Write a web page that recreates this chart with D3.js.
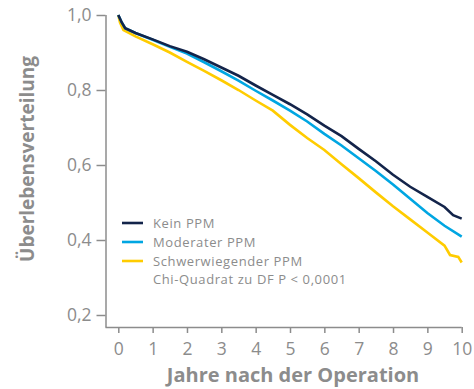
<!DOCTYPE html>
<html>
<head>
<meta charset="utf-8">
<script src="https://cdn.jsdelivr.net/npm/d3@7"></script>
<style>
  body { margin: 0; background: #fff; }
  text { font-family: "Open Sans", Lato, sans-serif; }
</style>
</head>
<body>
<svg id="main"></svg>
<script>
var chart = {
  width: 474,
  height: 389
}

// survival curves: [year, value]
var keinPPM = [[0,1.0],[0.1,0.98],[0.2,0.965],[0.5,0.952],[1,0.935],[1.5,0.917],[2,0.902],[2.5,0.882],[3,0.86],[3.5,0.838],[4,0.812],[4.5,0.787],[5,0.762],[5.5,0.735],[6,0.705],[6.5,0.677],[7,0.643],[7.5,0.61],[8,0.574],[8.5,0.542],[9,0.515],[9.5,0.488],[9.75,0.466],[10,0.457]]
var moderaterPPM = [[0,1.0],[0.1,0.98],[0.2,0.965],[0.5,0.952],[1,0.934],[1.5,0.915],[2,0.897],[2.5,0.874],[3,0.85],[3.5,0.825],[4,0.798],[4.5,0.772],[5,0.745],[5.5,0.716],[6,0.683],[6.5,0.652],[7,0.618],[7.5,0.584],[8,0.548],[8.5,0.51],[9,0.472],[9.5,0.438],[10,0.409]]
var schwerPPM = [[0,1.0],[0.05,0.98],[0.15,0.96],[0.5,0.943],[1,0.922],[1.5,0.9],[2,0.875],[2.5,0.851],[3,0.826],[3.5,0.8],[4,0.772],[4.5,0.745],[5,0.707],[5.5,0.672],[6,0.64],[6.5,0.602],[7,0.565],[7.5,0.527],[8,0.49],[8.5,0.455],[9,0.42],[9.5,0.385],[9.66,0.36],[9.9,0.355],[10,0.34]]

var seriesNames = ["Kein PPM", "Moderater PPM", "Schwerwiegender PPM"]
var seriesColors = ["#13244a", "#00a6e2", "#ffcc00"]
var xTicks = [0,1,2,3,4,5,6,7,8,9,10]
var yTicks = [0.2,0.4,0.6,0.8,1.0]

var svg = d3.select("#main")
  .attr("width", chart.width)
  .attr("height", chart.height)

var x = d3.scaleLinear().domain([0, 10]).range([118.3, 461.7])
var y = d3.scaleLinear().domain([0.2, 1.0]).range([315, 15])

var grey = "#8c8c8c"

// y axis
var yAxis = svg.append("g")
  .attr("transform", "translate(105.5,0)")
  .call(d3.axisLeft(y).tickValues(yTicks).tickSize(9).tickPadding(5)
    .tickFormat(function(d) { return d3.format(".1f")(d).replace(".", ",") }))
yAxis.select(".domain").attr("d", "M0.5,15V327.5")

// x axis
var xAxis = svg.append("g")
  .attr("transform", "translate(0,327)")
  .call(d3.axisBottom(x).tickValues(xTicks).tickSize(6).tickPadding(10))
xAxis.select(".domain").attr("d", "M105.5,0.5H461.7")

svg.selectAll(".tick text").attr("fill", grey)
  .style("font-size", "17.5px")
svg.selectAll(".domain, .tick line").attr("stroke", grey).attr("stroke-width", 1.5)

// axis titles
svg.append("text")
  .attr("x", 293).attr("y", 382)
  .attr("text-anchor", "middle")
  .attr("fill", grey)
  .style("font-size", "20px").style("font-weight", "bold")
  .text("Jahre nach der Operation")

svg.append("text")
  .attr("transform", "translate(34,159) rotate(-90)")
  .attr("text-anchor", "middle")
  .attr("fill", grey)
  .style("font-size", "19px").style("font-weight", "bold")
  .text("Überlebensverteilung")

var line = d3.line()
  .x(function(d) { return x(d[0]) })
  .y(function(d) { return y(d[1]) })

var allSeries = [schwerPPM, moderaterPPM, keinPPM]
var order = [2, 1, 0]
allSeries.forEach(function(s, i) {
  svg.append("path")
    .datum(s)
    .attr("fill", "none")
    .attr("stroke", seriesColors[order[i]])
    .attr("stroke-width", 2.6)
    .attr("d", line)
})

// legend
var legend = svg.append("g").attr("transform", "translate(122,223)")
seriesNames.forEach(function(n, i) {
  legend.append("line")
    .attr("x1", 0).attr("x2", 21)
    .attr("y1", i * 19).attr("y2", i * 19)
    .attr("stroke", seriesColors[i]).attr("stroke-width", 2.6)
  legend.append("text")
    .attr("x", 31).attr("y", i * 19 + 4.5)
    .attr("fill", grey).style("font-size", "13px")
    .style("letter-spacing", "0.6px")
    .text(n)
})
legend.append("text")
  .attr("x", 31).attr("y", 3 * 18.7 + 4.5)
  .attr("fill", grey).style("font-size", "13px")
  .style("letter-spacing", "0.6px")
  .text("Chi-Quadrat zu DF P < 0,0001")
</script>
</body>
</html>
